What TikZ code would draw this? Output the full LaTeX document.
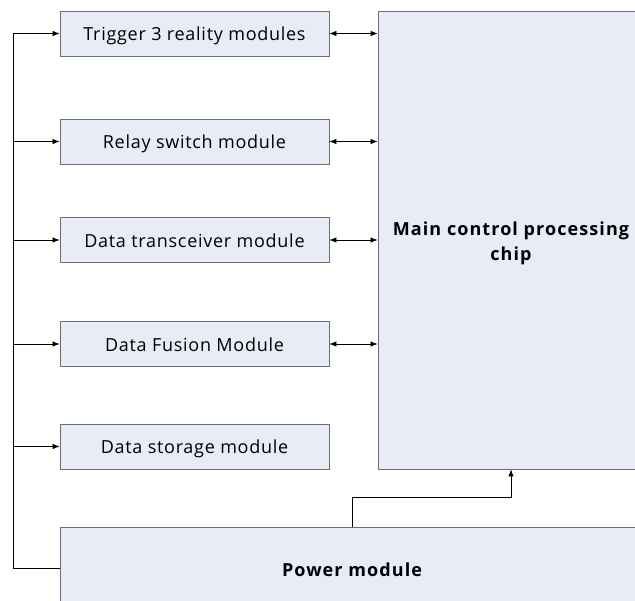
\documentclass[tikz,border=0pt]{standalone}
\usepackage{fontspec}
\setmainfont{Open Sans}
\newfontfamily\labelfont[LetterSpace=4]{Open Sans}
\newfontfamily\headfont[LetterSpace=6]{Open Sans Bold}
\usetikzlibrary{arrows.meta}
\definecolor{boxfill}{HTML}{E8ECF7}
\definecolor{boxline}{HTML}{6E6E6E}
\tikzset{
  x=1pt, y=-1pt,
  module/.style={draw=boxline, fill=boxfill, line width=0.9pt, minimum width=269pt,
    minimum height=45pt, inner sep=0pt, text height=15pt, text depth=0pt,
    font=\labelfont\fontsize{18}{22}\selectfont},
  bigbox/.style={draw=boxline, fill=boxfill, line width=0.9pt, inner sep=0pt},
  headtext/.style={font=\headfont\fontsize{18}{25}\selectfont, align=center},
  wire/.style={line width=0.7pt, black},
  tip/.style={-{Latex[length=7pt,width=5.5pt]}},
  twotip/.style={{Latex[length=7pt,width=5.5pt]}-{Latex[length=7pt,width=5.5pt]}}
}
\begin{document}
\begin{tikzpicture}
\useasboundingbox (0,0) rectangle (635,601);
\begin{scope}
\clip (0,0) rectangle (635,601);
% left column of modules
\node[module] (trig)  at (194.5,33.5)  {Trigger 3 reality modules};
\node[module] (relay) at (194.5,141.5) {Relay switch module};
\node[module] (trx)   at (194.5,240)   {Data transceiver module};
\node[module] (fus)   at (194.5,344)   {Data Fusion Module};
\node[module] (stor)  at (194.5,446.5) {Data storage module};
% main chip and power supply
\node[bigbox, minimum width=266pt, minimum height=458pt] (chip) at (511,240) {};
\node[headtext] (chiptxt) at (511,243) {Main control processing\\chip};
\node[bigbox, minimum width=584pt, minimum height=100pt] (power) at (352,577) {};
\node[headtext] (powtxt) at (352,569.5) {Power module};
\end{scope}
% supply bus on the left
\coordinate (busbot) at (13,568);
\coordinate (bustop) at (13,33.5);
\draw[wire] (power.west |- busbot) -- (busbot) -- (bustop);
\foreach \m in {trig,relay,trx,fus,stor}
  \draw[wire, tip] (13,0 |- \m.west) -- (\m.west);
% links between modules and the chip
\foreach \m in {trig,relay,trx,fus}
  \draw[wire, twotip] (\m.east) -- (\m.east -| chip.west);
% power feed to the chip
\coordinate (pk1) at (352,497);
\coordinate (pk2) at (511,497);
\draw[wire, tip] (power.north -| pk1) -- (pk1) -- (pk2) -- (pk2 |- chip.south);
\end{tikzpicture}
\end{document}
